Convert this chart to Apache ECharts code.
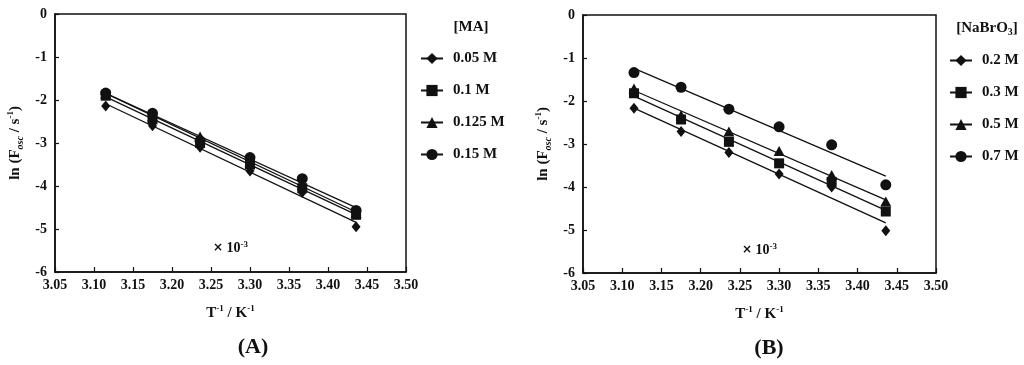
<!DOCTYPE html>
<html><head><meta charset="utf-8">
<script src="https://cdn.jsdelivr.net/npm/echarts@6/dist/echarts.min.js"></script>
<style>html,body{margin:0;padding:0;background:#fff}#c{width:1024px;height:365px}</style>
</head><body><div id="c"></div>
<script>
// Data (x in units of 10^-3 K^-1)
const invT = [3.115, 3.175, 3.236, 3.300, 3.367, 3.436];
const xTicks = [3.05, 3.10, 3.15, 3.20, 3.25, 3.30, 3.35, 3.40, 3.45, 3.50];
const yTicks = [0, -1, -2, -3, -4, -5, -6];
// Panel A: [MA]
const namesA = ['0.05 M', '0.1 M', '0.125 M', '0.15 M'];
const ma005 = [-2.14, -2.60, -3.10, -3.65, -4.15, -4.95];
const ma010 = [-1.90, -2.45, -3.00, -3.50, -4.05, -4.67];
const ma0125 = [-1.85, -2.38, -2.85, -3.45, -3.98, -4.63];
const ma015 = [-1.84, -2.31, -2.95, -3.34, -3.83, -4.57];
// Panel B: [NaBrO3]
const namesB = ['0.2 M', '0.3 M', '0.5 M', '0.7 M'];
const br02 = [-2.17, -2.71, -3.20, -3.70, -4.00, -5.02];
const br03 = [-1.82, -2.43, -2.95, -3.45, -3.88, -4.57];
const br05 = [-1.71, -2.33, -2.71, -3.16, -3.72, -4.34];
const br07 = [-1.34, -1.68, -2.19, -2.60, -3.02, -3.95];

const symbols = ['diamond', 'rect', 'triangle', 'circle'];
const symSizes = [[9, 11], 10, [11, 10], 11];
const legSizes = [[8, 10], 9, [10, 9], 10];
const FONT = 'Liberation Serif';

function fit(xs, ys) {
  const n = xs.length;
  const mx = xs.reduce((a, b) => a + b, 0) / n, my = ys.reduce((a, b) => a + b, 0) / n;
  let sxy = 0, sxx = 0;
  for (let i = 0; i < n; i++) { sxy += (xs[i] - mx) * (ys[i] - my); sxx += (xs[i] - mx) ** 2; }
  const b = sxy / sxx, a = my - b * mx;
  return [[xs[0], a + b * xs[0]], [xs[n - 1], a + b * xs[n - 1]]];
}
const pairs = ys => invT.map((x, i) => [x, ys[i]]);

const supRich = {
  sup: { fontFamily: FONT, fontWeight: 'bold', fontSize: 9, verticalAlign: 'top', lineHeight: 16, color: '#111' },
  sub: { fontFamily: FONT, fontWeight: 'bold', fontStyle: 'italic', fontSize: 10, verticalAlign: 'bottom', lineHeight: 19, color: '#111' },
  n: { fontFamily: FONT, fontWeight: 'bold', fontSize: 15, lineHeight: 18, color: '#111' }
};

function xAxis(gi) {
  return {
    type: 'value', gridIndex: gi, min: 3.05, max: 3.5, interval: 0.05, position: 'bottom',
    name: '{n|T}{sup|-1}{n| / K}{sup|-1}', nameLocation: 'middle', nameGap: 32,
    nameTextStyle: { rich: supRich },
    axisLine: { onZero: false, lineStyle: { color: '#111', width: 1.5 } },
    axisTick: { inside: true, length: 5, lineStyle: { color: '#111', width: 1.2 } },
    axisLabel: { color: '#111', fontFamily: FONT, fontWeight: 'bold', fontSize: 14, margin: 6,
      formatter: v => { const t = xTicks.find(k => Math.abs(k - v) < 1e-6); return (t !== undefined ? t : v).toFixed(2); } },
    splitLine: { show: false }
  };
}
function yAxis(gi) {
  return {
    type: 'value', gridIndex: gi, min: -6, max: 0, interval: 1, position: 'left',
    name: '{n|ln (F}{sub|osc}{n| / s}{sup|-1}{n|)}', nameLocation: 'middle', nameGap: 30, nameRotate: 90,
    nameTextStyle: { rich: supRich },
    axisLine: { onZero: false, lineStyle: { color: '#111', width: 1.5 } },
    axisTick: { inside: true, length: 4, lineStyle: { color: '#111', width: 1.2 } },
    axisLabel: { color: '#111', fontFamily: FONT, fontWeight: 'bold', fontSize: 14, margin: 8,
      formatter: v => { const t = yTicks.find(k => Math.abs(k - v) < 1e-6); return String(t !== undefined ? t : v); } },
    splitLine: { show: false }
  };
}

function panelSeries(gi, names, sets) {
  const s = [];
  sets.forEach((ys, i) => {
    s.push({
      type: 'line', name: names[i], xAxisIndex: gi, yAxisIndex: gi,
      data: fit(invT, ys), symbol: symbols[i], symbolSize: legSizes[i], showSymbol: false,
      lineStyle: { color: '#111', width: 1.3 }, itemStyle: { color: '#111', opacity: 1 }, silent: true, z: 2
    });
  });
  sets.forEach((ys, i) => {
    s.push({
      type: 'scatter', name: 'pts' + gi + '_' + i, xAxisIndex: gi, yAxisIndex: gi,
      data: pairs(ys), symbol: symbols[i], symbolSize: symSizes[i],
      itemStyle: { color: '#111', opacity: 1 }, z: 3
    });
  });
  return s;
}

const legendCommon = {
  orient: 'vertical', itemWidth: 22, itemHeight: 14, itemGap: 17, padding: 0,
  textStyle: { color: '#111', fontFamily: FONT, fontWeight: 'bold', fontSize: 15, lineHeight: 14, padding: [0, 0, 0, 5] },
  selectedMode: false
};

const txt = (x, y, text, size) => ({
  type: 'text', x: x, y: y,
  style: { text: text, fill: '#111', font: 'bold ' + size + 'px "' + FONT + '"', textAlign: 'center', textVerticalAlign: 'middle' }
});
const tenRich = {
  x: { fontFamily: 'DejaVu Sans', fontWeight: 'bold', fontSize: 12, fill: '#111', lineHeight: 16 },
  n: { fontFamily: FONT, fontWeight: 'bold', fontSize: 14, fill: '#111', lineHeight: 16 },
  sup: { fontFamily: FONT, fontWeight: 'bold', fontSize: 9, fill: '#111', verticalAlign: 'top', lineHeight: 14 }
};

const option = {
  backgroundColor: '#fff',
  animation: false,
  grid: [
    { left: 55, top: 14, width: 351, height: 258, show: true, borderColor: '#111', borderWidth: 1.5, outerBoundsMode: 'none', containLabel: false },
    { left: 583, top: 15, width: 353, height: 258, show: true, borderColor: '#111', borderWidth: 1.5, outerBoundsMode: 'none', containLabel: false }
  ],
  xAxis: [xAxis(0), xAxis(1)],
  yAxis: [yAxis(0), yAxis(1)],
  legend: [
    Object.assign({ left: 420, top: 51, data: namesA }, legendCommon),
    Object.assign({ left: 949, top: 53, data: namesB }, legendCommon)
  ],
  graphic: [
    txt(471, 27, '[MA]', 15),
    { type: 'text', x: 987, y: 28, style: { text: '{n|[NaBrO}{sub|3}{n|]}', rich: {
        n: { fontFamily: FONT, fontWeight: 'bold', fontSize: 15, fill: '#111', lineHeight: 18 },
        sub: { fontFamily: FONT, fontWeight: 'bold', fontSize: 10, fill: '#111', verticalAlign: 'bottom', lineHeight: 19 } },
      textAlign: 'center', textVerticalAlign: 'middle' } },
    { type: 'text', x: 213, y: 248, style: { text: '{x|×} {n|10}{sup|-3}', rich: tenRich, textVerticalAlign: 'middle' } },
    { type: 'text', x: 742, y: 250, style: { text: '{x|×} {n|10}{sup|-3}', rich: tenRich, textVerticalAlign: 'middle' } },
    txt(253, 347, '(A)', 22),
    txt(769, 348, '(B)', 22)
  ],
  series: [].concat(
    panelSeries(0, namesA, [ma005, ma010, ma0125, ma015]),
    panelSeries(1, namesB, [br02, br03, br05, br07])
  )
};
const chart = echarts.init(document.getElementById('c'), null, { renderer: 'canvas' });
chart.setOption(option);
</script></body></html>
